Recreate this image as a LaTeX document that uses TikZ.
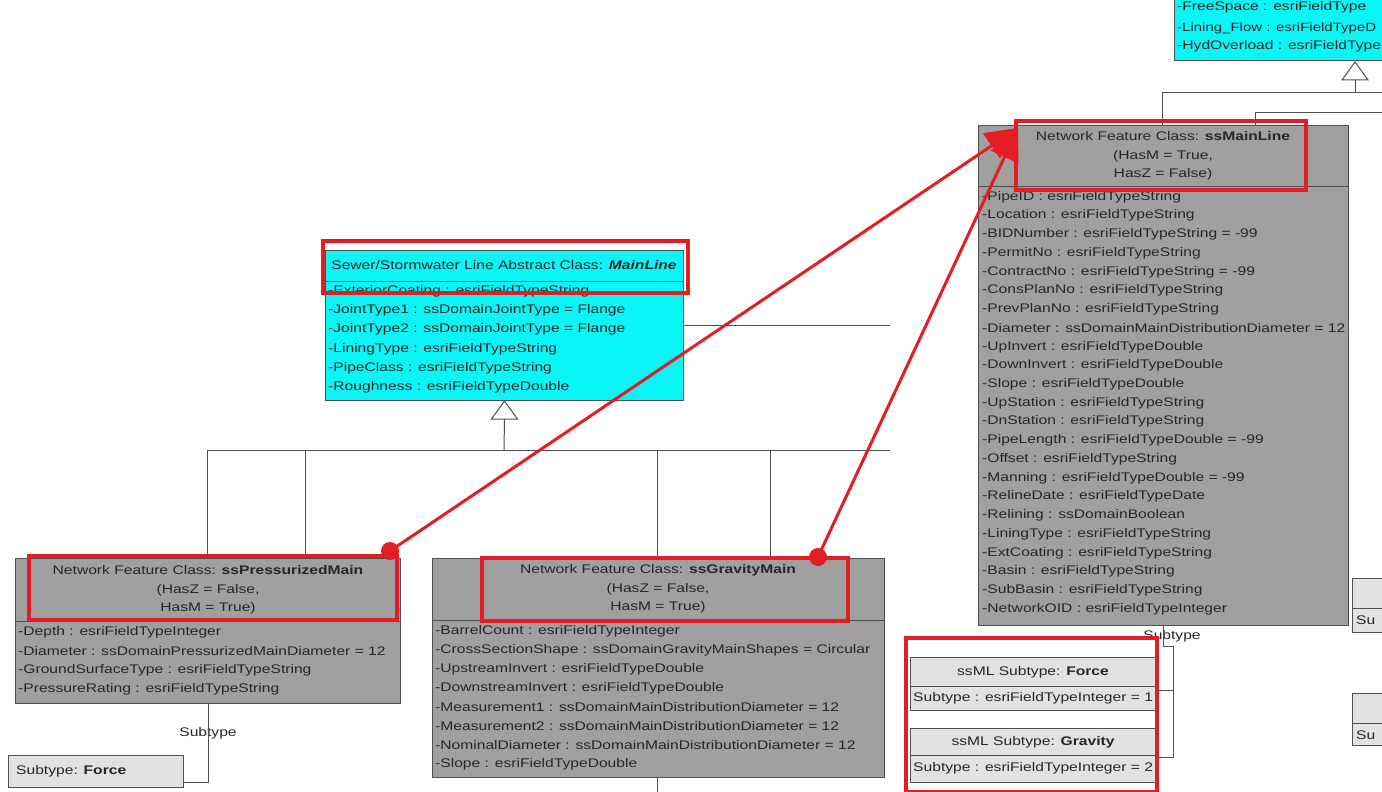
\documentclass[tikz,border=0pt]{standalone}
\usepackage{fontspec}
\newfontfamily\umlfont[FakeStretch=1.25]{Liberation Sans}
\usetikzlibrary{arrows.meta,positioning}
\definecolor{featgray}{RGB}{160,160,160}
\definecolor{abscyan}{RGB}{10,245,245}
\definecolor{subgray}{RGB}{226,226,226}
\definecolor{markred}{RGB}{226,30,36}
\definecolor{linkgray}{RGB}{80,80,80}
\tikzset{
  umltext/.style={font=\umlfont\fontsize{12.5}{18.5}\selectfont, text=black!85, inner sep=0pt},
  clsbox/.style={draw=linkgray, line width=1pt, anchor=north west, inner sep=0pt},
  featbox/.style={clsbox, fill=featgray},
  absbox/.style={clsbox, fill=abscyan},
  subbox/.style={clsbox, fill=subgray},
  attr/.style={umltext, anchor=west},
  hdr/.style={umltext, align=center},
  link/.style={draw=linkgray, line width=1pt},
  genarrow/.style={draw=linkgray, line width=1pt, fill=white},
  redframe/.style={draw=markred, line width=3.5pt},
  pointer/.style={draw=markred, line width=3pt, -{Triangle[length=32pt,width=30pt]}},
  reddot/.style={circle, fill=markred, minimum size=18pt, inner sep=0pt},
}
\begin{document}
\begin{tikzpicture}[x=1pt,y=-1pt]
\useasboundingbox[fill=white] (0,0) rectangle (1382,792);

% abstract class at the top right, cut by the page
\node[absbox, minimum width=240pt, minimum height=70pt] (hydro) at (1174,-10) {};
\node[attr] (hydro0) at (1177,7) {-FreeSpace : esriFieldType};
\node[attr, font=\umlfont\fontsize{12}{18}\selectfont] (hydro1) at (1177,28) {-Lining\_Flow : esriFieldTypeD};
\node[attr] (hydro2) at (1177,46) {-HydOverload : esriFieldType};
\draw[genarrow] (1355,62) -- (1342,80) -- (1368,80) -- cycle;
\draw[link] (1355,80) -- (1355,93);
\draw[link] (1382,93) -- (1162,93) -- (1162,125);
\draw[link] (1382,112) -- (1255,112) -- (1255,125);

% MainLine abstract class
\node[absbox, minimum width=358pt, minimum height=150pt] (mainline) at (325,250) {};
\node[hdr] (mainlinehdr) at (504,265) {Sewer/Stormwater Line Abstract Class: \textbf{\textit{MainLine}}};
\draw[link] (325,281) -- (683,281);
\foreach \t [count=\i from 0] in {-ExteriorCoating : esriFieldTypeString,
    -JointType1 : ssDomainJointType = Flange, -JointType2 : ssDomainJointType = Flange,
    -LiningType : esriFieldTypeString, -PipeClass : esriFieldTypeString,
    -Roughness : esriFieldTypeDouble}
  \node[attr] (mainline\i) at (328,{291+19.3*\i}) {\t};
\coordinate (mainlineout) at (890,325);
\draw[link] (mainline.east |- mainlineout) -- (mainlineout);

% generalization bus
\draw[genarrow] (mainline.south) -- ++(-13,18) -- ++(26,0) -- cycle;
\coordinate (busL) at (207,450);
\coordinate (busR) at (890,450);
\draw[link] (mainline.south) ++(0,18) -- (504,450);
\draw[link] (busL) -- (busR);

% ssPressurizedMain
\node[featbox, minimum width=385pt, minimum height=145pt] (pmain) at (15,558) {};
\node[hdr] (pmainhdr) at (208,590) {Network Feature Class: \textbf{ssPressurizedMain}\\(HasZ = False,\\HasM = True)};
\draw[link] (15,621) -- (400,621);
\foreach \t [count=\i from 0] in {-Depth : esriFieldTypeInteger,
    -Diameter : ssDomainPressurizedMainDiameter = 12,
    -GroundSurfaceType : esriFieldTypeString, -PressureRating : esriFieldTypeString}
  \node[attr] (pmain\i) at (18,{632+19*\i}) {\t};
\foreach \x in {207,305}
  \draw[link] (\x,450) -- (\x,558);

% ssGravityMain
\node[featbox, minimum width=452pt, minimum height=219pt] (gmain) at (432,558) {};
\node[hdr] (gmainhdr) at (658,589) {Network Feature Class: \textbf{ssGravityMain}\\(HasZ = False,\\HasM = True)};
\draw[link] (432,620) -- (884,620);
\foreach \t [count=\i from 0] in {-BarrelCount : esriFieldTypeInteger,
    -CrossSectionShape : ssDomainGravityMainShapes = Circular,
    -UpstreamInvert : esriFieldTypeDouble, -DownstreamInvert : esriFieldTypeDouble,
    -Measurement1 : ssDomainMainDistributionDiameter = 12,
    -Measurement2 : ssDomainMainDistributionDiameter = 12,
    -NominalDiameter : ssDomainMainDistributionDiameter = 12,
    -Slope : esriFieldTypeDouble}
  \node[attr] (gmain\i) at (435,{631+19.05*\i}) {\t};
\foreach \x in {657,770}
  \draw[link] (\x,450) -- (\x,558);
\draw[link] (gmain.south -| 657,0) -- (657,792);

% ssMainLine
\node[featbox, minimum width=370pt, minimum height=500pt] (mline) at (978,125) {};
\node[hdr] (mlinehdr) at (1163,156) {Network Feature Class: \textbf{ssMainLine}\\(HasM = True,\\HasZ = False)};
\draw[link] (978,186) -- (1348,186);
\foreach \t [count=\i from 0] in {-PipeID : esriFieldTypeString, -Location : esriFieldTypeString,
    -BIDNumber : esriFieldTypeString = -99, -PermitNo : esriFieldTypeString,
    -ContractNo : esriFieldTypeString = -99, -ConsPlanNo : esriFieldTypeString,
    -PrevPlanNo : esriFieldTypeString, -Diameter : ssDomainMainDistributionDiameter = 12,
    -UpInvert : esriFieldTypeDouble, -DownInvert : esriFieldTypeDouble,
    -Slope : esriFieldTypeDouble, -UpStation : esriFieldTypeString,
    -DnStation : esriFieldTypeString, -PipeLength : esriFieldTypeDouble = -99,
    -Offset : esriFieldTypeString, -Manning : esriFieldTypeDouble = -99,
    -RelineDate : esriFieldTypeDate, -Relining : ssDomainBoolean,
    -LiningType : esriFieldTypeString, -ExtCoating : esriFieldTypeString,
    -Basin : esriFieldTypeString, -SubBasin : esriFieldTypeString,
    -NetworkOID : esriFieldTypeInteger}
  \node[attr] (mline\i) at (982,{197+18.73*\i}) {\t};

% subtypes of ssMainLine
\node[subbox, minimum width=247pt, minimum height=53pt] (mlforce) at (910,657) {};
\node[umltext] (mlforcehdr) at (1033,672) {ssML Subtype: \textbf{Force}};
\draw[link] (910,686) -- (1157,686);
\node[attr] (mlforce0) at (913,698) {Subtype : esriFieldTypeInteger = 1};
\node[subbox, minimum width=247pt, minimum height=54pt] (mlgrav) at (910,728) {};
\node[umltext] (mlgravhdr) at (1033,742) {ssML Subtype: \textbf{Gravity}};
\draw[link] (910,755) -- (1157,755);
\node[attr] (mlgrav0) at (913,768) {Subtype : esriFieldTypeInteger = 2};
\node[umltext] (mlsublabel) at (1172,636) {Subtype};
\draw[link] (mline.south -| 1163,0) -- (1163,646) -- (1173,646) -- (1173,757) -- (mlgrav.east |- 0,757);
\draw[link] (1173,690) -- (mlforce.east |- 0,690);

% subtype of ssPressurizedMain, cut by the page
\node[subbox, minimum width=175pt, minimum height=32pt] (pforce) at (8,755) {};
\node[attr] (pforcehdr) at (16,771) {Subtype: \textbf{Force}};
\node[umltext] (psublabel) at (208,733) {Subtype};
\draw[link] (pmain.south -| 208,0) -- (208,782) -- (pforce.east |- 0,782);

% subtype boxes at the right edge
\node[subbox, minimum width=40pt, minimum height=54pt] (edge1) at (1352,578) {};
\draw[link] (1352,608) -- (1392,608);
\node[attr] (edge1txt) at (1356,620) {Su};
\node[subbox, minimum width=40pt, minimum height=52pt] (edge2) at (1352,693) {};
\draw[link] (1352,723) -- (1392,723);
\node[attr] (edge2txt) at (1356,735) {Su};

% red marks
\draw[redframe] (323,241) rectangle (688,293);
\draw[redframe] (1016,121) rectangle (1306,190);
\draw[redframe] (29,556) rectangle (397,620);
\draw[redframe] (482,558) rectangle (848,621);
\draw[redframe] (906,638) rectangle (1157,792);
\coordinate (tip) at (1018,128);
\node[reddot] (pdot) at (390,551) {};
\node[reddot] (gdot) at (818,557) {};
\draw[pointer] (pdot.center) -- (tip);
\draw[pointer] (gdot.center) -- (tip);
\end{tikzpicture}
\end{document}
